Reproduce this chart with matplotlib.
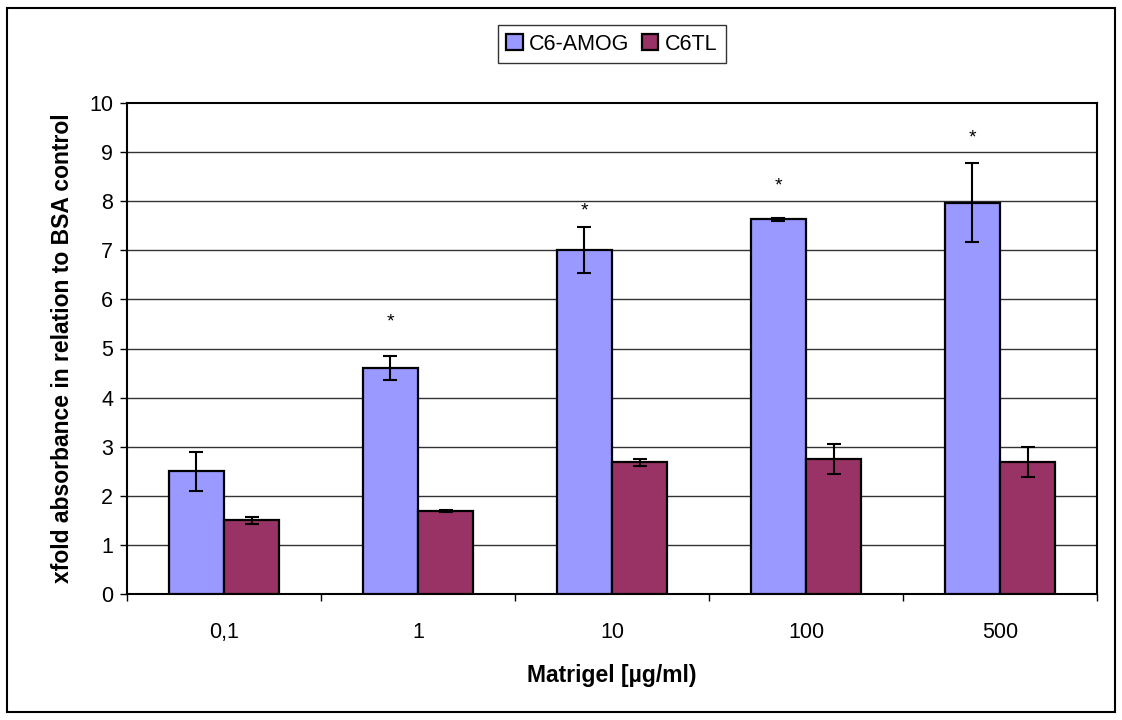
import numpy as np
import matplotlib.pyplot as plt
from matplotlib.patches import Rectangle

plt.rcParams['font.family'] = ['Liberation Sans', 'DejaVu Sans']

# Matrigel concentrations and the two cell lines
concentrations = ["0,1", "1", "10", "100", "500"]
amog_mean = [2.5, 4.6, 7.0, 7.63, 7.97]
amog_err = [0.4, 0.25, 0.47, 0.03, 0.8]
tl_mean = [1.5, 1.7, 2.68, 2.75, 2.69]
tl_err = [0.07, 0.02, 0.07, 0.3, 0.31]
# significance markers above the C6-AMOG bars
star_y = [None, 5.54, 7.8, 8.31, 9.28]

fig = plt.figure(figsize=(11.22, 7.2), dpi=100)
ax = fig.add_axes([127 / 1122, 126 / 720, 970 / 1122, 491 / 720])

x = np.arange(len(concentrations))
w = 1 / 3.5  # Excel-style gap width of 150 %

err_kw = dict(elinewidth=1.5, capthick=1.5, capsize=5, ecolor="black")
ax.bar(x - w / 2, amog_mean, w, yerr=amog_err, color="#9999FF",
       edgecolor="black", linewidth=1.6, label="C6-AMOG", error_kw=err_kw, zorder=3)
ax.bar(x + w / 2, tl_mean, w, yerr=tl_err, color="#993366",
       edgecolor="black", linewidth=1.6, label="C6TL", error_kw=err_kw, zorder=3)

for i, sy in enumerate(star_y):
    if sy is not None:
        ax.text(x[i] - w / 2, sy, "*", ha="center", va="center", fontsize=14, zorder=4)

ax.set_xlim(-0.5, len(concentrations) - 0.5)
ax.set_ylim(0, 10)
ax.set_yticks(range(0, 11))
ax.tick_params(axis="y", labelsize=15.5, length=5, width=1, direction="out", pad=5)

# tick marks between categories, labels in the middle
ax.set_xticks(np.arange(-0.5, len(concentrations), 1.0))
ax.set_xticklabels([])
ax.set_xticks(x, minor=True)
ax.set_xticklabels(concentrations, minor=True)
ax.tick_params(axis="x", which="major", length=5, width=1, direction="out")
ax.tick_params(axis="x", which="minor", length=0, labelsize=15.5, pad=20)

for yv in range(1, 10):
    ax.axhline(yv, color="#333333", linewidth=1, zorder=1)

for side in ax.spines.values():
    side.set_linewidth(1.5)
    side.set_color("black")

ax.set_xlabel("Matrigel [µg/ml)", fontsize=16.5, fontweight="bold", labelpad=15)
ax.set_ylabel("xfold absorbance in relation to BSA control", fontsize=16.5,
              fontweight="bold", labelpad=11)

leg = fig.legend(loc="upper center", bbox_to_anchor=(612 / 1122, 1 - 25 / 720),
                 ncol=2, fontsize=15.5, frameon=True, fancybox=False,
                 handlelength=0.75, handleheight=0.75, handletextpad=0.3,
                 columnspacing=0.6, borderpad=0.4, borderaxespad=0)
leg.get_frame().set_edgecolor("black")
leg.get_frame().set_linewidth(1)

# outer chart border
fig.patches.append(Rectangle((7 / 1122, 8 / 720), 1108 / 1122, 704 / 720,
                             transform=fig.transFigure, fill=False,
                             edgecolor="black", linewidth=1.5))

fig.savefig("out.png", dpi=100)
